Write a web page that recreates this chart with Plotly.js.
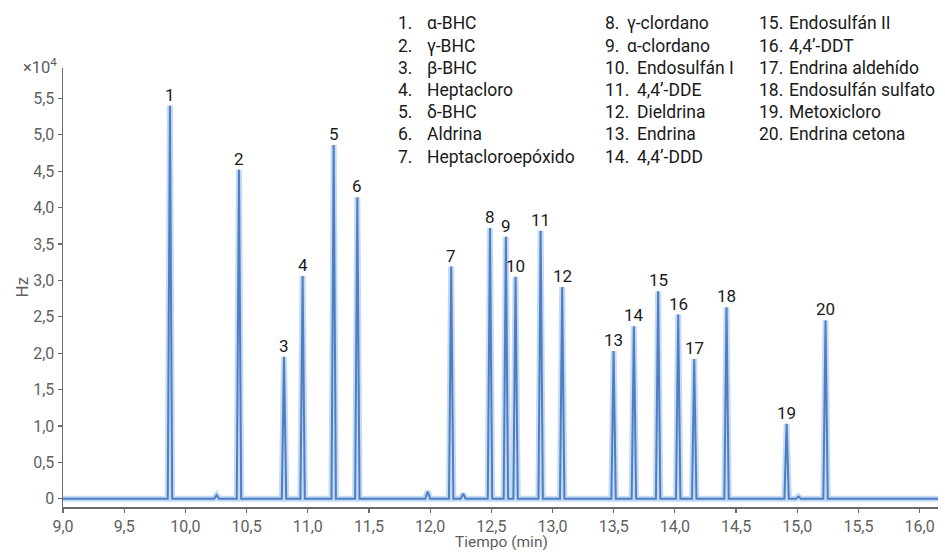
<!DOCTYPE html>
<html>
<head>
<meta charset="utf-8">
<script src="https://cdn.plot.ly/plotly-3.0.1.min.js"></script>
<style>
  html, body { margin: 0; padding: 0; background: #ffffff; }
  #chart { width: 945px; height: 552px; }
</style>
</head>
<body>
<div id="chart"></div>
<script>
// ---- Data ----
// Numbered peaks: retention time (min) and height (x10^4 Hz)
const peakNumbers = ["1","2","3","4","5","6","7","8","9","10","11","12","13","14","15","16","17","18","19","20"];
const peakTimes   = [9.874, 10.438, 10.806, 10.958, 11.212, 11.405, 12.172, 12.489, 12.619, 12.698,
                     12.903, 13.079, 13.499, 13.665, 13.863, 14.027, 14.158, 14.422, 14.913, 15.231];
const peakHeights = [5.40, 4.52, 1.95, 3.06, 4.86, 4.14, 3.19, 3.72, 3.60, 3.05,
                     3.68, 2.91, 2.03, 2.37, 2.85, 2.53, 1.92, 2.63, 1.03, 2.45];
// Small unlabelled peaks
const minorTimes   = [10.255, 11.980, 12.270, 15.010];
const minorHeights = [0.05, 0.10, 0.07, 0.03];
// Compound names (legend)
const compoundNames = ["α-BHC","γ-BHC","β-BHC","Heptacloro","δ-BHC","Aldrina","Heptacloroepóxido",
  "γ-clordano","α-clordano","Endosulfán I","4,4’-DDE","Dieldrina","Endrina","4,4’-DDD",
  "Endosulfán II","4,4’-DDT","Endrina aldehído","Endosulfán sulfato","Metoxicloro","Endrina cetona"];
// Axis ticks
const xTickVals = [9.0, 9.5, 10.0, 10.5, 11.0, 11.5, 12.0, 12.5, 13.0, 13.5, 14.0, 14.5, 15.0, 15.5, 16.0];
const xTickText = ["9,0","9,5","10,0","10,5","11,0","11,5","12,0","12,5","13,0","13,5","14,0","14,5","15,0","15,5","16,0"];
const yTickVals = [0, 0.5, 1.0, 1.5, 2.0, 2.5, 3.0, 3.5, 4.0, 4.5, 5.0, 5.5];
const yTickText = ["0","0,5","1,0","1,5","2,0","2,5","3,0","3,5","4,0","4,5","5,0","5,5"];
const xRange = [9.0, 16.15];
const yRange = [-0.113, 5.917];

// ---- Build the trace from the peak list ----
const halfW = 0.018;  // drawing half-width of a peak (style)
const allPeaks = peakTimes.map((t, i) => ({t: t, h: peakHeights[i], w: halfW}))
  .concat(minorTimes.map((t, i) => ({t: t, h: minorHeights[i], w: 0.02})))
  .sort((a, b) => a.t - b.t);
const xs = [xRange[0]], ys = [0];
allPeaks.forEach(p => {
  xs.push(p.t - p.w, p.t, p.t + p.w);
  ys.push(0, p.h, 0);
});
xs.push(xRange[1]); ys.push(0);

const traces = [
  {x: xs, y: ys, type: 'scatter', mode: 'lines', hoverinfo: 'skip',
   line: {color: 'rgba(150,188,235,0.55)', width: 6}},
  {x: xs, y: ys, type: 'scatter', mode: 'lines',
   line: {color: '#4f7ec1', width: 2}}
];

// ---- Annotations ----
const plotL = 63, plotR = 938, plotT = 68, plotB = 507;
const px2x = px => (px - plotL) / (plotR - plotL);
const py2y = py => (plotB - py) / (plotB - plotT);
const peakFont = {family: 'Roboto, sans-serif', size: 17, color: '#1a1a1a'};
const legFont = {family: 'Roboto, sans-serif', size: 17.5, color: '#1a1a1a'};
const greyFont = {family: 'Roboto, sans-serif', size: 17, color: '#5f5f5f'};
const annotations = [];

// Peak labels
peakNumbers.forEach((n, i) => {
  annotations.push({x: peakTimes[i], y: peakHeights[i], xref: 'x', yref: 'y', text: n,
    showarrow: false, yanchor: 'bottom', yshift: -1, font: peakFont});
});

// Compound legend (three columns)
const lineY0 = 23.3, lineStep = 22.2;
const cols = [
  {start: 0, count: 7, numX: 396, nameX1: 425, nameX2: 425},
  {start: 7, count: 7, numX: 602.5, nameX1: 625, nameX2: 634.5},
  {start: 14, count: 6, numX: 757, nameX1: 786.5, nameX2: 786.5}
];
cols.forEach(c => {
  for (let k = 0; k < c.count; k++) {
    const idx = c.start + k;
    const yy = py2y(lineY0 + k * lineStep);
    const num = peakNumbers[idx] + '.';
    annotations.push({x: px2x(c.numX), y: yy, xref: 'paper', yref: 'paper', text: num,
      showarrow: false, xanchor: 'left', yanchor: 'middle', font: legFont});
    annotations.push({x: px2x(num.length > 2 ? c.nameX2 : c.nameX1), y: yy, xref: 'paper', yref: 'paper',
      text: compoundNames[idx], showarrow: false, xanchor: 'left', yanchor: 'middle', font: legFont});
  }
});

// x10^4 multiplier
annotations.push({x: px2x(21), y: py2y(66), xref: 'paper', yref: 'paper', text: '×10<sup>4</sup>',
  showarrow: false, xanchor: 'left', yanchor: 'middle',
  font: {family: 'Roboto, sans-serif', size: 16.5, color: '#5a5a5a'}});

// Axis titles
annotations.push({x: px2x(501), y: 0, xref: 'paper', yref: 'paper', text: 'Tiempo (min)',
  showarrow: false, xanchor: 'center', yanchor: 'bottom', borderpad: 0,
  yshift: -(552 - plotB),
  font: {family: 'Roboto, sans-serif', size: 15.5, color: '#5f5f5f'}});
annotations.push({x: px2x(21.5), y: py2y(287), xref: 'paper', yref: 'paper', text: 'Hz',
  showarrow: false, xanchor: 'center', yanchor: 'middle', textangle: -90, borderpad: 0,
  font: greyFont});

const tickFont = {family: 'Roboto, sans-serif', size: 16, color: '#5f5f5f'};
const layout = {
  width: 945, height: 552,
  margin: {l: plotL, r: 945 - plotR, t: plotT, b: 552 - plotB, pad: 0},
  paper_bgcolor: '#ffffff', plot_bgcolor: '#ffffff',
  showlegend: false,
  font: {family: 'Roboto, sans-serif'},
  xaxis: {
    range: xRange, tickvals: xTickVals, ticktext: xTickText,
    showgrid: false, zeroline: false, showline: true, linecolor: '#6b6b6b', linewidth: 1.5,
    ticks: 'outside', ticklen: 4, tickcolor: '#6b6b6b', tickwidth: 1.2,
    tickfont: tickFont
  },
  yaxis: {
    range: yRange, tickvals: yTickVals, ticktext: yTickText,
    showgrid: false, zeroline: false, showline: true, linecolor: '#6b6b6b', linewidth: 1.5,
    ticks: 'outside', ticklen: 4, tickcolor: '#6b6b6b', tickwidth: 1.2,
    tickfont: tickFont
  },
  annotations: annotations
};

Plotly.newPlot('chart', traces, layout, {displayModeBar: false, staticPlot: true});
</script>
</body>
</html>
